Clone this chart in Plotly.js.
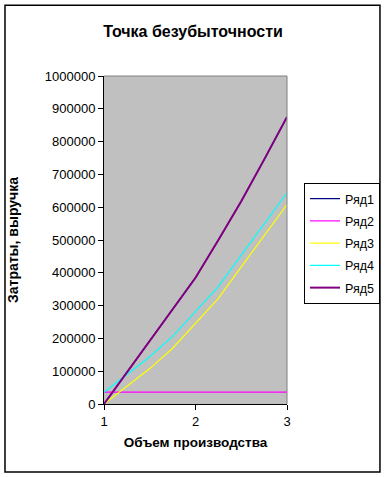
<!DOCTYPE html>
<html>
<head>
<meta charset="utf-8">
<script src="https://cdn.plot.ly/plotly-3.0.1.min.js"></script>
<style>html,body{margin:0;padding:0;background:#fff;}#chart{width:386px;height:477px;}</style>
</head>
<body>
<div id="chart"></div>
<script>
const volume = [1, 1.25, 1.5, 1.75, 2, 2.25, 2.5, 2.75, 3];
const seriesNames = ["Ряд1", "Ряд2", "Ряд3", "Ряд4", "Ряд5"];
const row1 = [0, 96000, 192000, 289000, 385000, 500000, 618000, 745000, 875000];
const row2 = [36000, 36000, 36000, 36000, 36000, 36000, 36000, 36000, 36000];
const row3 = [0, 54000, 108000, 170000, 246000, 322000, 418000, 512000, 608000];
const row4 = [36000, 90000, 144000, 206000, 282000, 358000, 454000, 548000, 644000];
const row5 = [0, 96000, 192000, 289000, 385000, 500000, 618000, 745000, 875000];
const xTicks = [1, 2, 3];

const values = [row1, row2, row3, row4, row5];
const colors = ["#000080", "#FF00FF", "#FFFF00", "#00FFFF", "#800080"];
const widths = [1.2, 1.2, 1.2, 1.2, 2];

const traces = values.map((v, i) => ({
  type: "scatter",
  mode: "lines",
  x: volume,
  y: v,
  name: seriesNames[i],
  legendgroup: "g" + i,
  line: {color: colors[i], width: widths[i]}
}));

const font = "Liberation Sans, Arial, sans-serif";
const layout = {
  width: 386,
  height: 477,
  margin: {l: 104, r: 99, t: 76, b: 73, autoexpand: false},
  paper_bgcolor: "#ffffff",
  plot_bgcolor: "#C0C0C0",
  font: {family: font, size: 12, color: "#000"},
  showlegend: true,
  title: {
    text: "<b>Точка безубыточности</b>",
    font: {family: font, size: 16, color: "#000"},
    x: 0.5, xref: "container", xanchor: "center",
    y: 1 - 31 / 477, yref: "container", yanchor: "middle"
  },
  xaxis: {
    range: [1, 3],
    tickvals: xTicks,
    ticktext: xTicks.map(String),
    showgrid: false,
    zeroline: false,
    showline: true,
    linecolor: "#000",
    linewidth: 1,
    ticks: "outside",
    ticklen: 5,
    tickcolor: "#000",
    tickfont: {family: font, size: 13},
    title: {text: "<b>Объем производства</b>", font: {family: font, size: 13.5}, standoff: 9}
  },
  yaxis: {
    range: [0, 1000000],
    dtick: 100000,
    tickformat: "d",
    showgrid: false,
    zeroline: false,
    showline: true,
    linecolor: "#000",
    linewidth: 1,
    ticks: "outside",
    ticklen: 5,
    tickcolor: "#000",
    tickfont: {family: font, size: 13},
    title: {text: "<b>Затраты, выручка</b>", font: {family: font, size: 14}, standoff: 22}
  },
  legend: {
    xref: "container", yref: "container",
    x: 304 / 386, xanchor: "left",
    y: 1 - 183 / 477, yanchor: "top",
    bordercolor: "#000",
    borderwidth: 1,
    bgcolor: "#fff",
    font: {family: font, size: 12.5},
    traceorder: "grouped",
    tracegroupgap: 3,
    itemwidth: 30
  },
  shapes: [
    {type: "line", xref: "paper", yref: "paper", x0: 0, x1: 1, y0: 1, y1: 1, line: {color: "#808080", width: 1}},
    {type: "line", xref: "paper", yref: "paper", x0: 1, x1: 1, y0: 0, y1: 1, line: {color: "#808080", width: 1}},
    {type: "rect", xref: "paper", yref: "paper", x0: -0.541, x1: 1.508, y0: -0.2071, y1: 1.2154, line: {color: "#000", width: 1.5}, layer: "below"}
  ]
};

Plotly.newPlot("chart", traces, layout, {displayModeBar: false, staticPlot: true});
</script>
</body>
</html>
